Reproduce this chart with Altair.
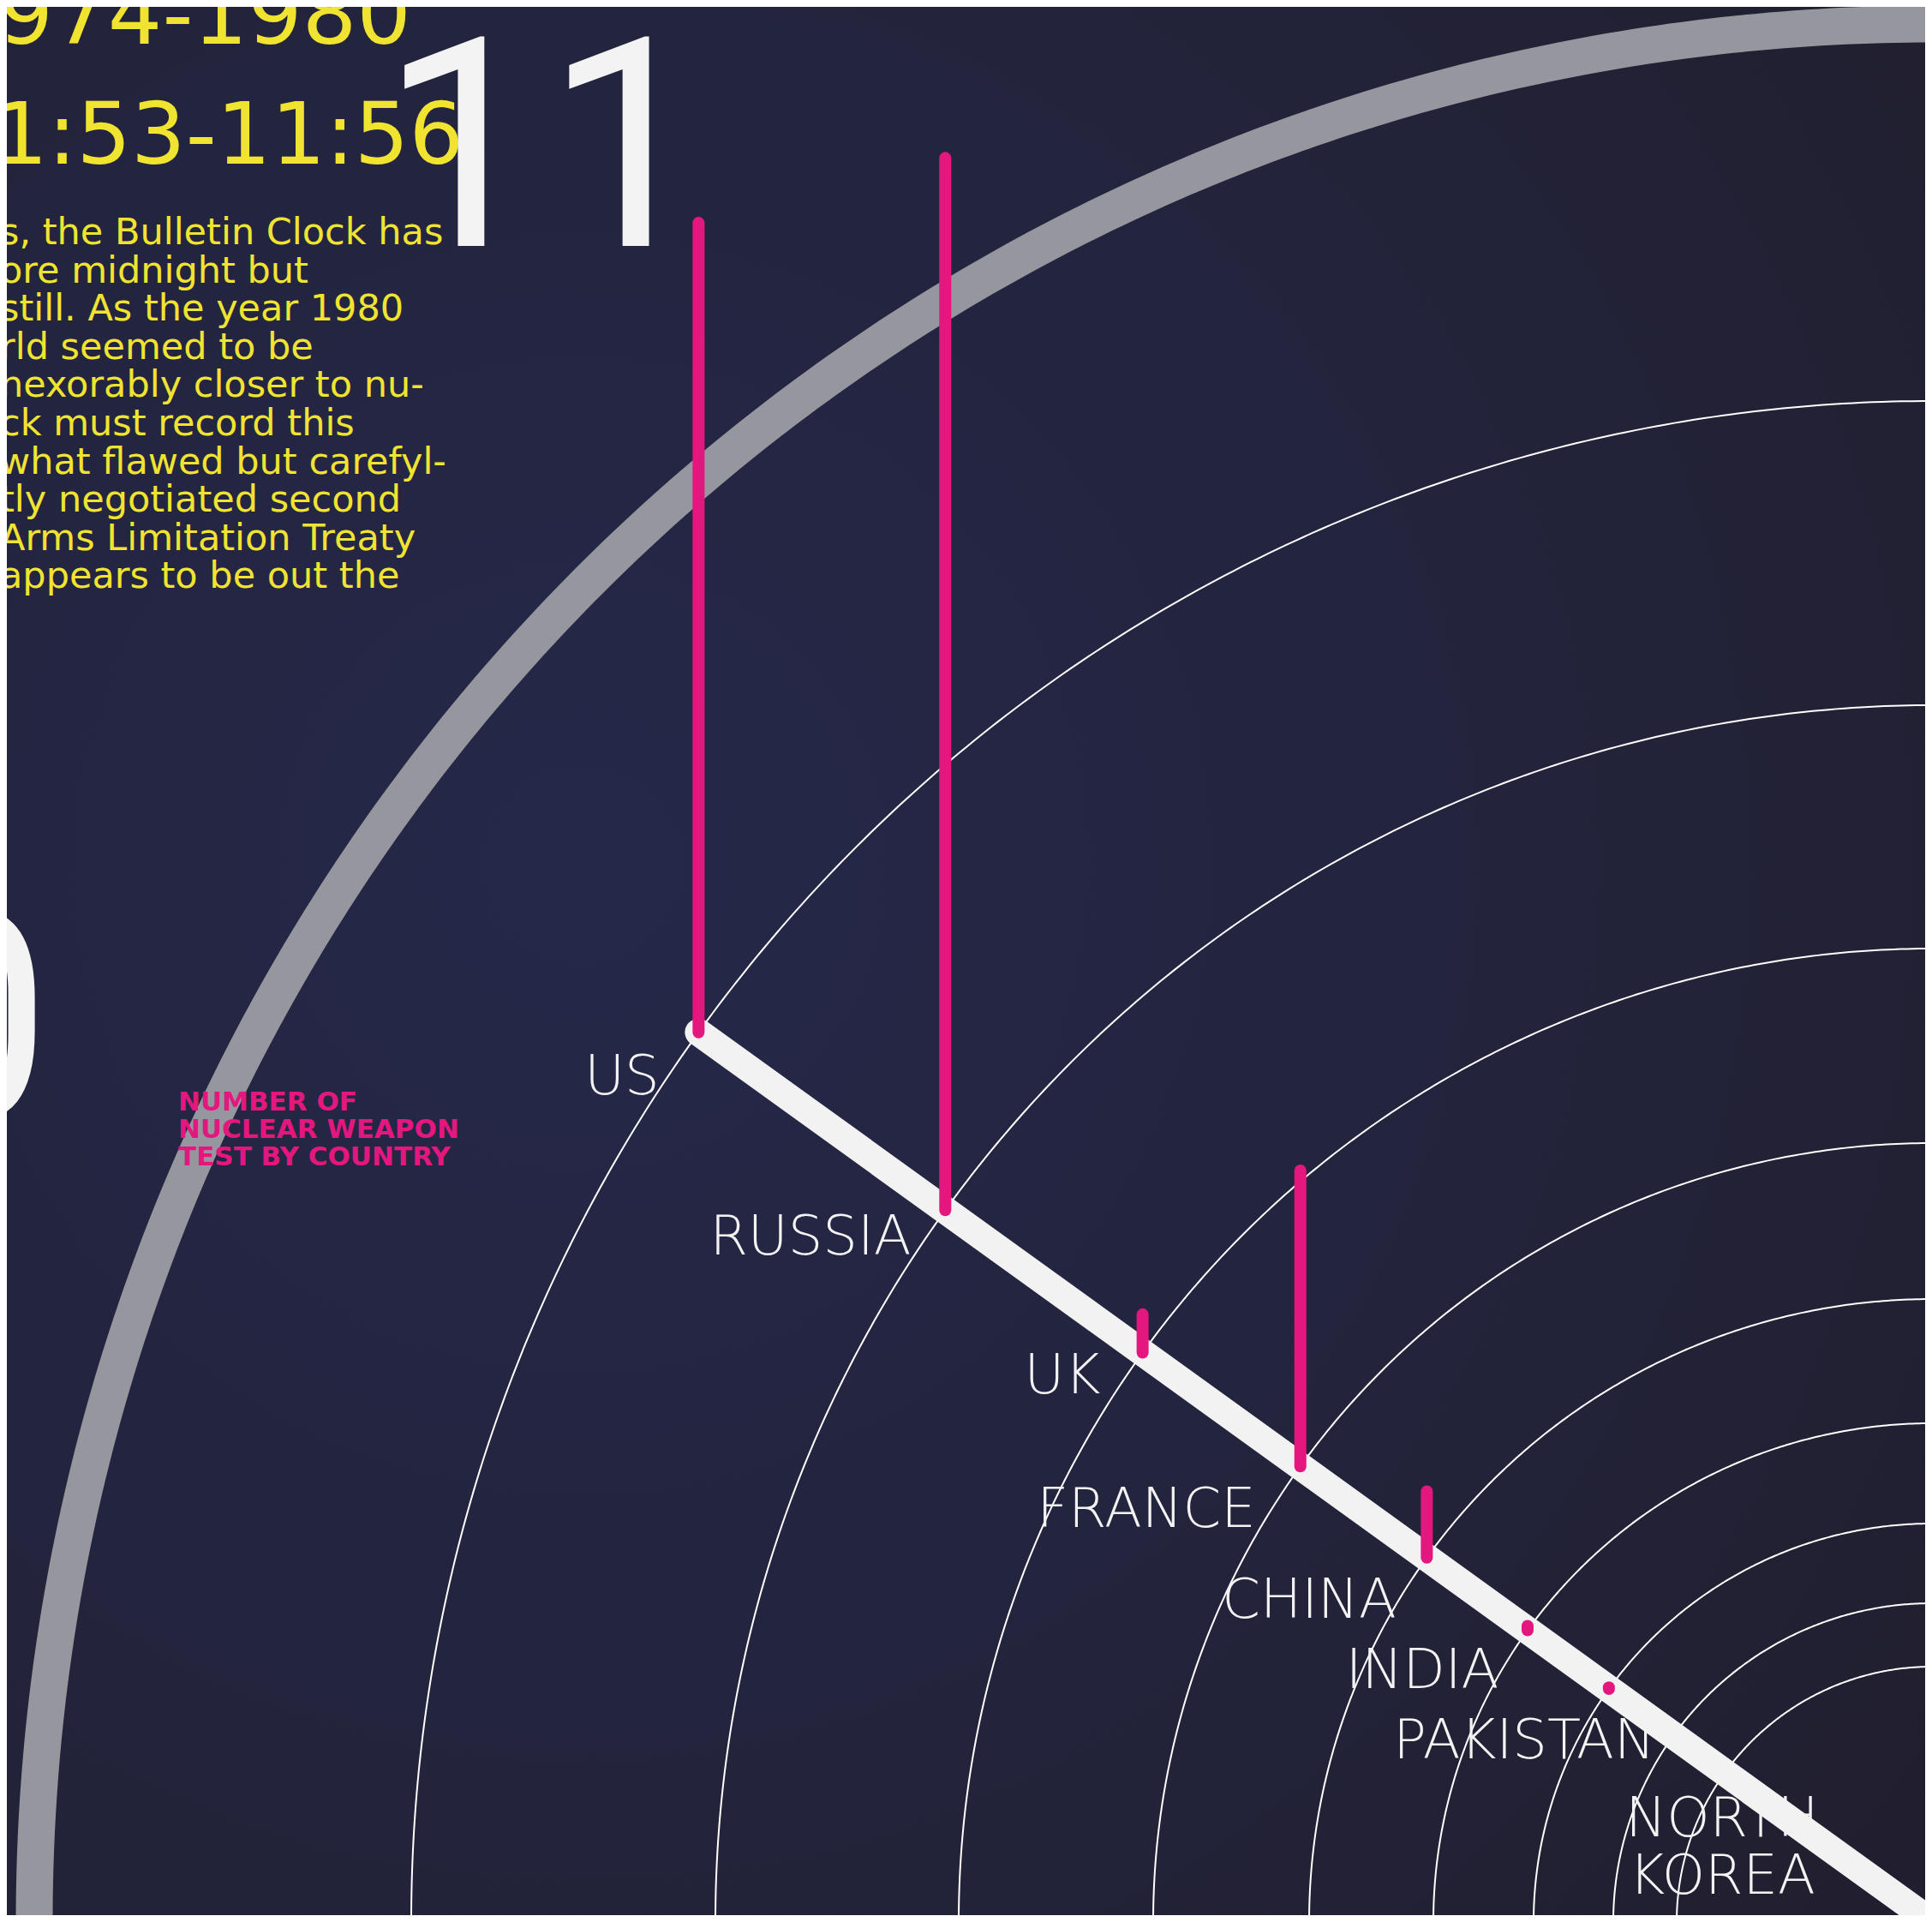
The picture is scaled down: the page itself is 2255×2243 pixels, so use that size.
import numpy as np
import pandas as pd
import altair as alt

# ---------------- data ----------------
countries = ["US", "RUSSIA", "UK", "FRANCE", "CHINA", "INDIA", "PAKISTAN", "NORTH\nKOREA"]
tests = [550, 715, 26, 201, 45, 3, 1, 0]

title_lines = ["1974-1980", "11:53-11:56"]
paragraph_lines = [
    "s, the Bulletin Clock has",
    "ore midnight but",
    "\u00a0still. As the year 1980",
    "rld seemed to be",
    "nexorably closer to nu-",
    "ck must record this",
    "what flawed but carefyl-",
    "tly negotiated second",
    "\u00a0Arms Limitation Treaty",
    "appears to be out the",
]
legend_lines = ["NUMBER OF", "NUCLEAR WEAPON", "TEST BY COUNTRY"]
clock_numerals = ["11", "10"]

# ---------------- layout (reference pixel space) ----------------
W, H = 2255, 2243
MARGIN = 8
CX, CY = 2255.0, 2243.0          # centre of the concentric rings
ANGLE = np.deg2rad(35.8)          # direction of the country axis
RING_RADII = [1775, 1420, 1136, 909, 727, 582, 465, 372, 298]
OUTER_R = 2215
PX_PER_TEST = 1.7175
LABEL_POS = [(726, 1277), (946, 1464), (1240, 1626), (1338, 1782),
             (1528, 1888), (1660, 1970), (1779, 2052), (2010, 2143)]
TITLE_POS = [(480, 51), (541, 191)]
PARA_X, PARA_Y0, PARA_DY = 0, 285, 44.6
LEGEND_X, LEGEND_Y0, LEGEND_DY = 208, 1296, 32
NUMERAL_POS = [(828, 287), (60, 1306)]

PW, PH = W - 2 * MARGIN, H - 2 * MARGIN
xs = alt.Scale(domain=[MARGIN, W - MARGIN], nice=False, zero=False)
ys = alt.Scale(domain=[MARGIN, H - MARGIN], nice=False, zero=False, reverse=True)
X = lambda f="x": alt.X(f"{f}:Q", scale=xs, axis=None)
Y = lambda f="y": alt.Y(f"{f}:Q", scale=ys, axis=None)

YELLOW = "#f1e431"
MAGENTA = "#e4177f"
WHITE = "#f3f3f3"
FONT = "DejaVu Sans"

# ---------------- frames ----------------
phi = np.linspace(0, np.pi / 2, 241)
rings = pd.concat([
    pd.DataFrame({"ring": i, "order": np.arange(len(phi)),
                  "x": CX - r * np.cos(phi), "y": CY - r * np.sin(phi)})
    for i, r in enumerate(RING_RADII)
])
outer = pd.DataFrame({"order": np.arange(len(phi)),
                      "x": CX - OUTER_R * np.cos(phi), "y": CY - OUTER_R * np.sin(phi)})

pts = pd.DataFrame({
    "country": countries,
    "tests": tests,
    "x": [CX - r * np.cos(ANGLE) for r in RING_RADII[:len(countries)]],
    "y": [CY - r * np.sin(ANGLE) for r in RING_RADII[:len(countries)]],
})
pts["ytop"] = pts["y"] - pts["tests"] * PX_PER_TEST
pts["lx"] = [p[0] for p in LABEL_POS]
pts["ly"] = [p[1] for p in LABEL_POS]

axis_line = pd.DataFrame({
    "order": [0, 1],
    "x": [pts["x"].iloc[0], CX + 80 * np.cos(ANGLE)],
    "y": [pts["y"].iloc[0], CY + 80 * np.sin(ANGLE)],
})

titles = pd.DataFrame({"text": title_lines,
                       "x": [p[0] for p in TITLE_POS], "y": [p[1] for p in TITLE_POS]})
para = pd.DataFrame({"text": paragraph_lines,
                     "x": PARA_X,
                     "y": [PARA_Y0 + i * PARA_DY for i in range(len(paragraph_lines))]})
legend = pd.DataFrame({"text": legend_lines, "x": LEGEND_X,
                       "y": [LEGEND_Y0 + i * LEGEND_DY for i in range(len(legend_lines))]})
numerals = pd.DataFrame({"text": clock_numerals,
                         "x": [p[0] for p in NUMERAL_POS], "y": [p[1] for p in NUMERAL_POS]})

# ---------------- layers ----------------
bg = alt.Chart(pd.DataFrame({"a": [0]})).mark_rect(
    fill=alt.RadialGradient(
        gradient="radial",
        stops=[alt.GradientStop(color="#252849", offset=0),
               alt.GradientStop(color="#23243e", offset=0.5),
               alt.GradientStop(color="#211f2f", offset=1)],
        x1=0.3, y1=0.45, r1=0, x2=0.3, y2=0.45, r2=0.85),
).encode(x=alt.value(0), x2=alt.value(PW), y=alt.value(0), y2=alt.value(PH))

outer_arc = alt.Chart(outer).mark_line(
    stroke="#96969f", strokeWidth=43, strokeCap="butt"
).encode(x=X(), y=Y(), order="order:Q")

ring_arcs = alt.Chart(rings).mark_line(
    stroke="#ffffff", strokeWidth=2
).encode(x=X(), y=Y(), detail="ring:N", order="order:Q")

title_text = alt.Chart(titles).mark_text(
    align="right", baseline="alphabetic", font=FONT, fontSize=100, color=YELLOW
).encode(x=X(), y=Y(), text="text:N")

para_text = alt.Chart(para).mark_text(
    align="left", baseline="alphabetic", font=FONT, fontSize=43, color=YELLOW
).encode(x=X(), y=Y(), text="text:N")

numeral_text = alt.Chart(numerals).mark_text(
    align="right", baseline="alphabetic", font="Roboto", fontSize=342, color=WHITE
).encode(x=X(), y=Y(), text="text:N")

legend_text = alt.Chart(legend).mark_text(
    align="left", baseline="alphabetic", font=FONT, fontWeight="bold", fontSize=31, color=MAGENTA
).encode(x=X(), y=Y(), text="text:N")

labels = alt.Chart(pts).mark_text(
    align="center", baseline="alphabetic", font=FONT, fontWeight=200, fontSize=64,
    color=WHITE, lineBreak="\n", lineHeight=67
).encode(x=X("lx"), y=Y("ly"), text="country:N")

axis = alt.Chart(axis_line).mark_line(
    stroke="#f2f2f2", strokeWidth=32, strokeCap="round"
).encode(x=X(), y=Y(), order="order:Q")

bars = alt.Chart(pts).transform_filter("datum.tests > 0").mark_rule(
    stroke=MAGENTA, strokeWidth=14, strokeCap="round"
).encode(x=X(), y=Y(), y2="ytop:Q")

chart = alt.layer(
    bg, outer_arc, ring_arcs, title_text, para_text, numeral_text, legend_text,
    labels, axis, bars
).properties(
    width=PW, height=PH, padding=0, autosize=alt.AutoSizeParams(type="none"),
    background="#222239"
).configure_view(stroke=None)

chart.save("out.html", embed_options={"renderer": "svg", "actions": False})
